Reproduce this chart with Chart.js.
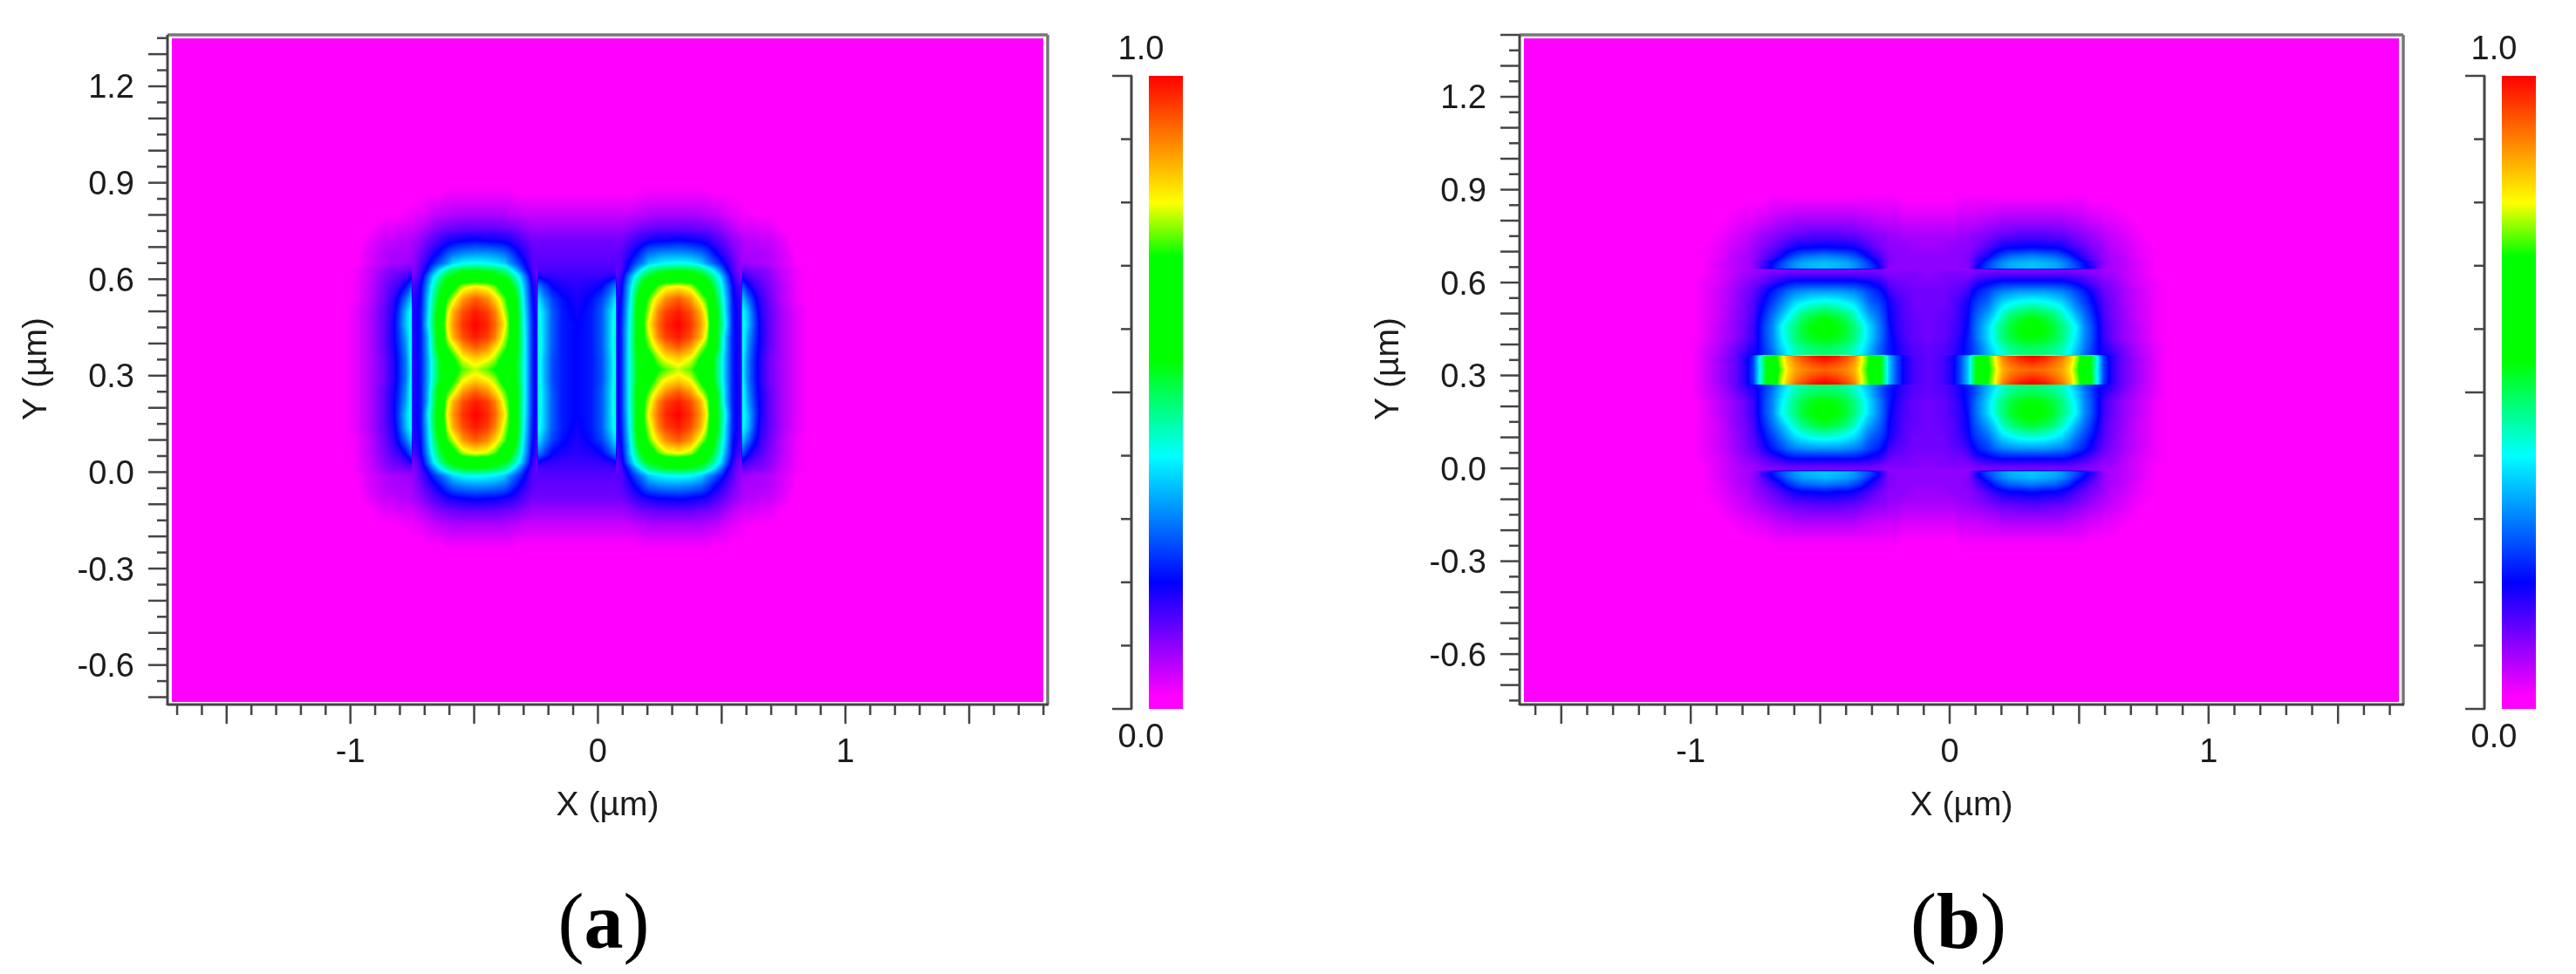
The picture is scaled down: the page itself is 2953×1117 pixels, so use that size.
<!DOCTYPE html>
<html>
<head>
<meta charset="utf-8">
<title>Field maps</title>
<script src="https://cdn.jsdelivr.net/npm/chart.js@4"></script>
<style>
  html, body { margin: 0; background: #fff; }
  body { position: relative; width: 2953px; height: 1117px; overflow: hidden; }
  canvas { position: absolute; filter: blur(0.6px); }
  .tag { position: absolute; top: 1012px; transform: translateX(-50%); font: 90px/1 "Liberation Serif", serif; color: #000; }
</style>
</head>
<body>
<canvas id="mainA"></canvas><canvas id="barA"></canvas>
<canvas id="mainB"></canvas><canvas id="barB"></canvas>
<div class="tag" style="left:692px">(<b>a</b>)</div>
<div class="tag" style="left:2245px">(<b>b</b>)</div>
<script>
// colour scale
const colorStops = [0, 0.02, 0.2, 0.4, 0.55, 0.715, 0.8, 1];
const colorValues = ["#ff00ff", "#ff00ff", "#0000ff", "#00ffff", "#00ff00", "#00ff00", "#ffff00", "#ff0000"];

const xTickLabels = [-1, 0, 1];
const yTickLabels = [-0.6, -0.3, 0, 0.3, 0.6, 0.9, 1.2];

// Both fields are mirror symmetric: u = distance from the gap between the two lobes, v = distance from mid height.
const centreA = [-0.085, 0.319];
const uA = [0, .06, .10, .13, .156, .161, .18, .21, .24, .27, .29, .33, .36, .41, .46, .50, .525, .55, .58, .605, .63, .65, .664, .669, .69, .72, .745, .78, .83, .89, .96, 1.05];
const vA = [0, .03, .07, .10, .14, .18, .22, .26, .29, .31, .33, .36, .40, .44, .48, .53, .60];
const fieldA = [
  [.20,.22,.26,.34,.42,.17,.23,.40,.53,.62,.66,.71,.74,.78,.74,.68,.62,.55,.44,.32,.22,.19,.17,.40,.30,.22,.17,.12,.08,.04,.01,0],
  [.20,.22,.26,.34,.43,.17,.23,.40,.53,.62,.66,.76,.80,.83,.79,.70,.64,.55,.44,.32,.22,.19,.17,.41,.30,.22,.17,.12,.08,.04,.01,0],
  [.20,.22,.27,.35,.44,.17,.23,.40,.55,.68,.74,.83,.89,.93,.88,.78,.72,.62,.47,.33,.22,.19,.17,.42,.32,.23,.18,.13,.08,.04,.01,0],
  [.20,.22,.27,.35,.44,.17,.23,.40,.55,.71,.77,.90,.95,.98,.94,.86,.77,.62,.48,.33,.22,.19,.17,.42,.33,.24,.18,.13,.08,.04,.01,0],
  [.20,.22,.27,.35,.43,.17,.23,.39,.55,.71,.81,.92,.97,1.0,.96,.88,.80,.63,.50,.37,.22,.19,.17,.42,.36,.25,.18,.13,.08,.04,.01,0],
  [.19,.22,.27,.35,.42,.17,.22,.38,.55,.71,.77,.90,.95,.98,.94,.86,.77,.62,.49,.35,.22,.19,.17,.41,.35,.24,.17,.13,.08,.04,.01,0],
  [.18,.21,.25,.31,.38,.16,.21,.36,.53,.65,.74,.83,.89,.93,.88,.78,.72,.58,.46,.34,.21,.18,.16,.36,.29,.21,.16,.12,.07,.03,.01,0],
  [.17,.18,.20,.25,.30,.15,.19,.34,.48,.57,.64,.74,.78,.80,.77,.68,.60,.52,.43,.31,.20,.16,.14,.27,.21,.16,.14,.11,.07,.03,.01,0],
  [.16,.16,.165,.17,.19,.13,.17,.30,.42,.50,.53,.57,.60,.61,.60,.56,.52,.47,.38,.27,.17,.13,.11,.18,.15,.13,.12,.10,.06,.03,.01,0],
  [.15,.15,.15,.15,.15,.12,.15,.23,.33,.42,.47,.50,.52,.53,.52,.49,.45,.39,.30,.21,.15,.12,.10,.13,.12,.11,.11,.09,.06,.03,.01,0],
  [.14,.14,.14,.14,.14,.14,.14,.20,.26,.31,.36,.39,.40,.41,.40,.37,.32,.28,.23,.18,.14,.11,.10,.09,.09,.08,.08,.07,.05,.02,.005,0],
  [.13,.13,.13,.13,.13,.13,.14,.17,.21,.26,.29,.31,.32,.32,.31,.29,.26,.22,.18,.15,.12,.10,.09,.08,.08,.08,.08,.07,.05,.02,.005,0],
  [.12,.12,.12,.12,.12,.12,.12,.14,.16,.18,.19,.20,.20,.21,.20,.19,.18,.16,.14,.12,.10,.09,.08,.08,.07,.07,.06,.06,.04,.01,0,0],
  [.09,.09,.09,.09,.09,.09,.09,.10,.11,.12,.12,.13,.13,.13,.13,.12,.12,.11,.10,.08,.07,.06,.05,.05,.05,.05,.04,.04,.02,.01,0,0],
  [.06,.06,.06,.06,.06,.06,.06,.06,.07,.07,.08,.08,.08,.08,.08,.08,.07,.07,.06,.05,.04,.04,.03,.03,.03,.02,.02,.02,.01,0,0,0],
  [.03,.03,.03,.03,.03,.03,.03,.03,.03,.04,.04,.04,.04,.04,.04,.04,.04,.03,.03,.03,.02,.02,.02,.02,.01,.01,.01,.01,0,0,0,0],
  [0,0,0,0,0,0,0,0,0,0,0,0,0,0,0,0,0,0,0,0,0,0,0,0,0,0,0,0,0,0,0,0],
];

const centreB = [-0.0815, 0.318];
const uB = [0, .057, .095, .124, .153, .167, .191, .229, .258, .286, .315, .353, .401, .448, .487, .515, .544, .572, .601, .63, .658, .677, .706, .744, .801, .878, .954];
const vB = [0, .026, .041, .046, .049, .073, .104, .14, .176, .218, .254, .285, .311, .323, .329, .347, .368, .394, .435, .487, .549, .622];
const fieldB = [
  [.13,.15,.19,.26,.36,.45,.58,.70,.78,.86,.89,.91,.92,.91,.89,.87,.82,.74,.64,.52,.36,.25,.18,.13,.09,.04,.005],
  [.13,.15,.19,.26,.36,.45,.59,.71,.80,.88,.92,.95,.97,.95,.92,.89,.84,.76,.65,.53,.37,.25,.18,.13,.09,.04,.005],
  [.13,.15,.19,.26,.35,.45,.60,.72,.80,.90,.94,.98,1.0,.98,.94,.91,.85,.77,.66,.53,.36,.24,.18,.13,.09,.04,.005],
  [.13,.15,.19,.26,.35,.45,.60,.72,.80,.90,.94,.98,1.0,.98,.94,.91,.85,.77,.66,.53,.36,.24,.18,.13,.09,.04,.005],
  [.13,.14,.16,.19,.22,.24,.28,.34,.38,.42,.45,.47,.48,.47,.45,.43,.39,.34,.28,.24,.20,.19,.17,.13,.08,.04,.005],
  [.13,.14,.16,.19,.22,.24,.28,.35,.40,.44,.47,.49,.50,.49,.47,.45,.41,.36,.30,.25,.20,.18,.15,.12,.08,.04,.005],
  [.12,.13,.15,.18,.22,.25,.30,.37,.43,.48,.51,.54,.55,.54,.51,.48,.43,.38,.31,.26,.20,.16,.13,.10,.07,.03,.005],
  [.12,.13,.15,.17,.21,.25,.30,.37,.43,.48,.52,.55,.58,.55,.52,.48,.44,.39,.31,.26,.20,.16,.13,.10,.07,.03,.005],
  [.12,.13,.14,.17,.20,.24,.28,.33,.38,.44,.48,.51,.53,.51,.48,.44,.39,.34,.29,.24,.19,.15,.12,.10,.06,.03,.005],
  [.12,.12,.14,.16,.19,.22,.25,.28,.33,.37,.39,.41,.42,.41,.39,.37,.33,.29,.25,.21,.17,.14,.12,.09,.06,.03,.005],
  [.12,.12,.13,.14,.16,.19,.22,.25,.28,.30,.31,.32,.32,.32,.31,.30,.28,.25,.22,.19,.15,.13,.11,.09,.06,.03,.005],
  [.11,.11,.12,.12,.13,.15,.17,.19,.20,.21,.21,.21,.21,.21,.21,.21,.20,.18,.16,.14,.12,.11,.10,.08,.05,.03,.005],
  [.10,.11,.11,.11,.11,.11,.12,.13,.13,.13,.13,.13,.13,.13,.13,.13,.13,.12,.12,.11,.10,.09,.09,.07,.05,.02,.005],
  [.10,.10,.10,.10,.10,.10,.11,.11,.11,.11,.11,.11,.11,.11,.11,.11,.11,.11,.10,.10,.09,.09,.08,.07,.05,.02,.005],
  [.10,.10,.10,.10,.10,.14,.20,.26,.29,.32,.34,.35,.36,.35,.34,.32,.29,.26,.22,.18,.13,.09,.08,.07,.05,.02,.005],
  [.10,.10,.10,.10,.11,.13,.18,.24,.28,.31,.33,.34,.35,.34,.33,.31,.28,.24,.20,.16,.12,.10,.08,.07,.05,.02,.005],
  [.10,.10,.10,.10,.11,.12,.15,.19,.23,.26,.28,.29,.30,.29,.28,.26,.23,.19,.16,.13,.11,.09,.08,.07,.04,.02,.005],
  [.09,.09,.10,.10,.10,.11,.12,.15,.17,.19,.20,.20,.21,.20,.20,.19,.17,.15,.13,.11,.10,.09,.07,.06,.04,.02,0],
  [.08,.08,.08,.09,.09,.10,.10,.11,.12,.13,.13,.14,.14,.14,.13,.13,.12,.11,.10,.09,.08,.07,.06,.05,.03,.01,0],
  [.05,.05,.05,.06,.06,.06,.06,.07,.07,.08,.08,.08,.08,.08,.08,.08,.07,.07,.06,.05,.05,.04,.04,.03,.02,.01,0],
  [.02,.02,.02,.03,.03,.03,.03,.03,.03,.03,.03,.03,.03,.03,.03,.03,.03,.03,.03,.02,.02,.02,.02,.01,.01,0,0],
  [0,0,0,0,0,0,0,0,0,0,0,0,0,0,0,0,0,0,0,0,0,0,0,0,0,0,0],
];

const AXIS_COLOR = "#454545";
const TEXT_COLOR = "#1c1c1c";
const FONT = "Liberation Sans";
const FONT_SIZE = 38;

const near = (a, b) => Math.abs(a - b) < 1e-6;

// lookup table for the colour scale
function buildLut() {
  const rgb = colorValues.map(h => [1, 3, 5].map(i => parseInt(h.slice(i, i + 2), 16)));
  const lut = new Uint8ClampedArray(1025 * 3);
  for (let i = 0; i <= 1024; i++) {
    const t = i / 1024;
    let k = 0;
    while (k < colorStops.length - 2 && t > colorStops[k + 1]) k++;
    const f = Math.min(1, Math.max(0, (t - colorStops[k]) / (colorStops[k + 1] - colorStops[k])));
    for (let n = 0; n < 3; n++) lut[i * 3 + n] = rgb[k][n] + (rgb[k + 1][n] - rgb[k][n]) * f;
  }
  return lut;
}
const LUT = buildLut();

// where a coordinate falls in a list of grid stops: [index, fraction]
function locate(list, val) {
  if (val >= list[list.length - 1]) return [list.length - 2, 1];
  let k = 0;
  while (val > list[k + 1]) k++;
  return [k, (val - list[k]) / (list[k + 1] - list[k])];
}

// the read-off grid nodes as chart points, all four mirrored quadrants
function fieldPoints(us, vs, field, centre) {
  const pts = [];
  vs.forEach((v, r) => us.forEach((u, c) => {
    [-1, 1].forEach(sx => [-1, 1].forEach(sy => {
      pts.push({ x: centre[0] + sx * u, y: centre[1] + sy * v, v: field[r][c] });
    }));
  }));
  return pts;
}

// paints the surface between the grid nodes, pixel by pixel, through the chart's scales
const surfacePlugin = {
  id: "surface",
  beforeDatasetsDraw(chart) {
    const { us, vs, field, centre } = chart.data.datasets[0].grid;
    const area = chart.chartArea;
    const x0 = Math.round(area.left) + 5, y0 = Math.round(area.top) + 4;
    const w = Math.round(area.right) - 5 - x0, h = Math.round(area.bottom) - 3 - y0;
    const img = chart.ctx.createImageData(w, h);
    const cols = [], rows = [];
    for (let i = 0; i < w; i++) cols.push(locate(us, Math.abs(chart.scales.x.getValueForPixel(x0 + i + 0.5) - centre[0])));
    for (let j = 0; j < h; j++) rows.push(locate(vs, Math.abs(chart.scales.y.getValueForPixel(y0 + j + 0.5) - centre[1])));
    let p = 0;
    for (let j = 0; j < h; j++) {
      const [r, fr] = rows[j];
      const r0 = field[r], r1 = field[r + 1];
      for (let i = 0; i < w; i++) {
        const [c, fc] = cols[i];
        const top = r0[c] + (r0[c + 1] - r0[c]) * fc;
        const bot = r1[c] + (r1[c + 1] - r1[c]) * fc;
        const val = top + (bot - top) * fr;
        const l = Math.round(Math.min(1, Math.max(0, val)) * 1024) * 3;
        img.data[p++] = LUT[l]; img.data[p++] = LUT[l + 1]; img.data[p++] = LUT[l + 2]; img.data[p++] = 255;
      }
    }
    chart.ctx.putImageData(img, x0, y0);
  },
};

function tickLine(ctx, x1, y1, x2, y2, width) {
  ctx.lineWidth = width;
  ctx.beginPath();
  ctx.moveTo(x1, y1);
  ctx.lineTo(x2, y2);
  ctx.stroke();
}

// frame and the two lengths of tick marks, at the positions of the scale ticks
const framePlugin = {
  id: "frame",
  afterDraw(chart) {
    const { ctx, chartArea: a, scales } = chart;
    ctx.save();
    ctx.strokeStyle = "#777";
    tickLine(ctx, a.left, a.top, a.right, a.top, 3.5);
    tickLine(ctx, a.right, a.top, a.right, a.bottom, 3.5);
    ctx.strokeStyle = AXIS_COLOR;
    tickLine(ctx, a.left, a.top, a.left, a.bottom + 1, 3);
    tickLine(ctx, a.left, a.bottom, a.right + 1, a.bottom, 3);
    scales.x.ticks.forEach(t => {
      const px = scales.x.getPixelForValue(t.value);
      const long = near(t.value * 2, Math.round(t.value * 2));
      tickLine(ctx, px, a.bottom, px, a.bottom + (long ? 22 : 12), 2.5);
    });
    scales.y.ticks.forEach(t => {
      const py = scales.y.getPixelForValue(t.value);
      const long = near(t.value * 10, Math.round(t.value * 10));
      tickLine(ctx, a.left, py, a.left - (long ? 22 : 12), py, 2.5);
    });
    // Y axis title
    const opts = chart.options.plugins.frame;
    ctx.translate(opts.titleX, opts.titleY);
    ctx.rotate(-Math.PI / 2);
    ctx.fillStyle = TEXT_COLOR;
    ctx.font = `39px "${FONT}"`;
    ctx.textAlign = "center";
    ctx.textBaseline = "middle";
    ctx.fillText(opts.title, 0, 0);
    ctx.restore();
  },
};

// no extra room for the labels at the ends of an axis: the plot box stays where it is set
function noEndPadding(s) {
  s.paddingLeft = s.paddingRight = s.paddingTop = s.paddingBottom = 0;
}

function makeMain(id, originX, plot, xRange, yRange, grid) {
  const canvas = document.getElementById(id);
  canvas.width = plot.right + 10 - originX;
  canvas.height = 960;
  canvas.style.left = originX + "px";
  canvas.style.top = "0px";
  new Chart(canvas, {
    type: "scatter",
    data: {
      datasets: [{
        label: "field",
        data: fieldPoints(grid.us, grid.vs, grid.field, grid.centre),
        grid,
        pointRadius: 0,
        showLine: false,
      }],
    },
    options: {
      responsive: false,
      animation: false,
      devicePixelRatio: 1,
      events: [],
      layout: { padding: { left: 0, top: plot.top, right: 10, bottom: 0 } },
      plugins: {
        legend: { display: false },
        tooltip: { enabled: false },
        frame: { title: "Y (µm)", titleX: plot.yTitleX - originX, titleY: 423 },
      },
      scales: {
        x: {
          type: "linear",
          min: xRange[0], max: xRange[1],
          afterFit(s) { s.height = 960 - plot.bottom; noEndPadding(s); },
          grid: { display: false, drawTicks: false },
          border: { display: false },
          title: {
            display: true, text: "X (µm)", color: TEXT_COLOR,
            font: { family: FONT, size: 39 }, padding: { top: 0, bottom: 12 },
          },
          ticks: {
            stepSize: 0.1, includeBounds: false, autoSkip: false, maxRotation: 0, minRotation: 0,
            padding: 33, color: TEXT_COLOR, font: { family: FONT, size: FONT_SIZE },
            callback: v => (xTickLabels.some(l => near(l, v)) ? String(Math.round(v)) : ""),
          },
        },
        y: {
          type: "linear",
          min: yRange[0], max: yRange[1],
          afterFit(s) { s.width = plot.left - originX; noEndPadding(s); },
          grid: { display: false, drawTicks: false },
          border: { display: false },
          ticks: {
            stepSize: 0.05, includeBounds: false, autoSkip: false,
            padding: 38, labelOffset: 3, color: TEXT_COLOR, font: { family: FONT, size: FONT_SIZE },
            callback: v => (yTickLabels.some(l => near(l, v)) ? v.toFixed(1) : ""),
          },
        },
      },
    },
    plugins: [surfacePlugin, framePlugin],
  });
}

// colour bar: one floating bar 0..1 with the colour scale as gradient
const barAxisPlugin = {
  id: "barAxis",
  afterDraw(chart) {
    const { ctx, scales: { y } } = chart;
    const axisX = chart.options.plugins.barAxis.axisX;
    ctx.save();
    ctx.strokeStyle = AXIS_COLOR;
    tickLine(ctx, axisX, y.getPixelForValue(0), axisX, y.getPixelForValue(1), 3);
    y.ticks.forEach(t => {
      const py = y.getPixelForValue(t.value);
      const long = near(t.value * 2, Math.round(t.value * 2));
      tickLine(ctx, axisX + 1, py, axisX - (long ? 22 : 12), py, 2.5);
    });
    ctx.fillStyle = TEXT_COLOR;
    ctx.font = `${FONT_SIZE}px "${FONT}"`;
    ctx.textAlign = "center";
    ctx.textBaseline = "middle";
    ctx.fillText("1.0", axisX + 11, y.getPixelForValue(1) - 29);
    ctx.fillText("0.0", axisX + 11, y.getPixelForValue(0) + 34);
    ctx.restore();
  },
};

function makeBar(id, cb) {
  const canvas = document.getElementById(id);
  const originX = cb.axis - 40;
  canvas.width = 120;
  canvas.height = 900;
  canvas.style.left = originX + "px";
  canvas.style.top = "0px";
  new Chart(canvas, {
    type: "bar",
    data: {
      labels: [""],
      datasets: [{
        data: [[0, 1]],
        barPercentage: 1,
        categoryPercentage: 1,
        backgroundColor(ctx) {
          const { chart } = ctx;
          if (!chart.chartArea) return colorValues[0];
          const y = chart.scales.y;
          const g = chart.ctx.createLinearGradient(0, y.getPixelForValue(0), 0, y.getPixelForValue(1));
          colorStops.forEach((s, i) => g.addColorStop(s, colorValues[i]));
          return g;
        },
      }],
    },
    options: {
      responsive: false,
      animation: false,
      devicePixelRatio: 1,
      events: [],
      layout: { padding: { left: cb.left - originX, top: cb.top, right: 120 - (cb.right - originX), bottom: 900 - cb.bottom } },
      plugins: { legend: { display: false }, tooltip: { enabled: false }, barAxis: { axisX: 40 } },
      scales: {
        x: { display: false },
        y: {
          display: false,
          min: 0, max: 1,
          ticks: { stepSize: 0.1 },
        },
      },
    },
    plugins: [barAxisPlugin],
  });
}

function init() {
  makeMain("mainA", 0, { left: 192, right: 1201, top: 40, bottom: 808, yTitleX: 42 },
    [-1.739, 1.817], [-0.723, 1.36], { us: uA, vs: vA, field: fieldA, centre: centreA });
  makeBar("barA", { axis: 1297, left: 1317, right: 1356, top: 87, bottom: 813 });
  makeMain("mainB", 1540, { left: 1742, right: 2755, top: 40, bottom: 808, yTitleX: 1592 },
    [-1.661, 1.752], [-0.763, 1.4], { us: uB, vs: vB, field: fieldB, centre: centreB });
  makeBar("barB", { axis: 2848, left: 2868, right: 2907, top: 87, bottom: 813 });
}

init();
</script>
</body>
</html>
